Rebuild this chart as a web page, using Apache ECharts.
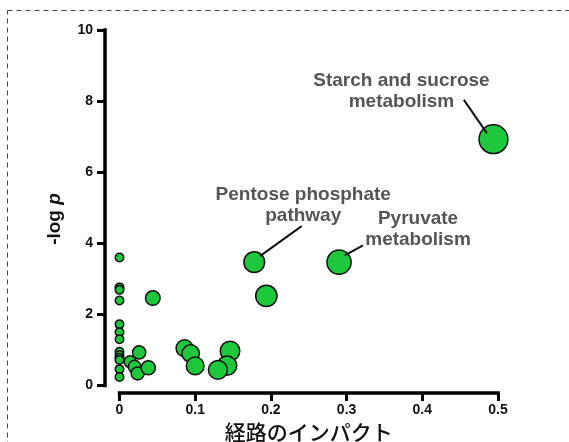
<!DOCTYPE html>
<html><head><meta charset="utf-8">
<script src="https://cdn.jsdelivr.net/npm/echarts@6/dist/echarts.min.js"></script>
<style>html,body{margin:0;padding:0;background:#fff}#c{width:569px;height:442px}</style>
</head><body><div id="c"></div>
<script>
// Pathway impact (x) and -log p (y) for each pathway
const impact = [0,0,0,0,0,0,0,0,0,0,0,0,0,
  0.014,0.026,0.02,0.024,0.038,0.044,0.086,0.094,0.1,0.146,0.142,0.13,0.178,0.194,0.29,0.494];
const logp = [3.6,2.76,2.69,2.39,1.72,1.5,1.3,0.95,0.86,0.78,0.72,0.46,0.24,
  0.67,0.93,0.53,0.34,0.5,2.46,1.05,0.9,0.55,0.97,0.56,0.44,3.47,2.52,3.47,6.93];
const xTicks = ['0','0.1','0.2','0.3','0.4','0.5'];
const yTicks = ['0','2','4','6','8','10'];
const annotations = [
  {idx: 28, lines: ['Starch and sucrose','metabolism']},
  {idx: 25, lines: ['Pentose phosphate','pathway']},
  {idx: 27, lines: ['Pyruvate','metabolism']}
];
// layout for annotations (label centre offset, leader line start/end offsets from point)
const annLayout = [
  {lx:-92, ly:-48, a:[-6.6,-6], b:[-29.6,-39.3]},
  {lx:49, ly:-57, a:[5.7,-6], b:[47.4,-36]},
  {lx:79, ly:-33, a:[5.7,-6.7], b:[24,-16.7]}
];

const data = impact.map((v,i)=>[v, logp[i]]);
const chart = echarts.init(document.getElementById('c'), null, {renderer:'canvas'});
const FONT = '"Liberation Sans", Arial, Helvetica, sans-serif';
const option = {
  animation: false,
  grid: {left: 119.5, right: 71, top: 30, bottom: 56.5, containLabel: false, outerBoundsMode: 'none'},
  xAxis: {
    type: 'value', min: 0, max: 0.5, interval: 0.1, offset: 7.5,
    name: '経路のインパクト', nameLocation: 'middle', nameGap: 24,
    nameTextStyle: {fontFamily: '"Noto Sans CJK JP", sans-serif', fontSize: 21, color: '#111', fontWeight: 500},
    axisLine: {onZero: false, lineStyle: {color: '#000', width: 3.5, cap: 'square'}},
    axisTick: {length: 8, lineStyle: {color: '#000', width: 3}},
    splitLine: {show: false},
    axisLabel: {margin: 10, fontFamily: FONT, fontWeight: 'bold', fontSize: 14, color: '#111',
      formatter: (v)=>{const i=Math.round(v*10); return xTicks[i];}}
  },
  yAxis: {
    type: 'value', min: 0, max: 10, interval: 2, offset: 14.5,
    axisLine: {show: true, onZero: false, lineStyle: {color: '#000', width: 3.5, cap: 'square'}},
    axisTick: {show: true, length: 8, lineStyle: {color: '#000', width: 3}},
    splitLine: {show: false},
    axisLabel: {margin: 12, fontFamily: FONT, fontWeight: 'bold', fontSize: 14, color: '#111',
      formatter: (v)=>yTicks[Math.round(v/2)]}
  },
  series: [{
    type: 'scatter', clip: false, data: data,
    symbolSize: (d)=>8.5 + 29*Math.sqrt(d[0]),
    itemStyle: {color: '#1ec83c', borderColor: '#111', borderWidth: 1.5, opacity: 1}
  }],
  graphic: []
};
chart.setOption(option);

const g = [
  {type:'rect', shape:{x:7.5, y:10.5, width:600, height:500}, silent:true, z:-1,
   style:{fill:'none', stroke:'#444', lineWidth:1, lineDash:[5,4]}},
  {type:'text', x:55, y:219, rotation: Math.PI/2,
   style:{text:'-log {i|p}', fontFamily: FONT, fontWeight:'bold', fontSize:19, fill:'#111',
     align:'center', verticalAlign:'middle',
     rich:{i:{fontStyle:'italic', fontWeight:'bold', fontSize:19, fontFamily: FONT, fill:'#111'}}}}
];
annotations.forEach((an, k)=>{
  const p = chart.convertToPixel({gridIndex:0}, data[an.idx]);
  const L = annLayout[k];
  g.push({type:'line', z:5, shape:{x1:p[0]+L.a[0], y1:p[1]+L.a[1], x2:p[0]+L.b[0], y2:p[1]+L.b[1]},
    style:{stroke:'#111', lineWidth:2}});
  g.push({type:'text', z:6, x:p[0]+L.lx, y:p[1]+L.ly,
    style:{text: an.lines.join('\n'), fontFamily: FONT, fontWeight:'bold', fontSize:19, lineHeight:21,
      fill:'#555', align:'center', verticalAlign:'middle'}});
});
chart.setOption({graphic: g});
</script></body></html>
